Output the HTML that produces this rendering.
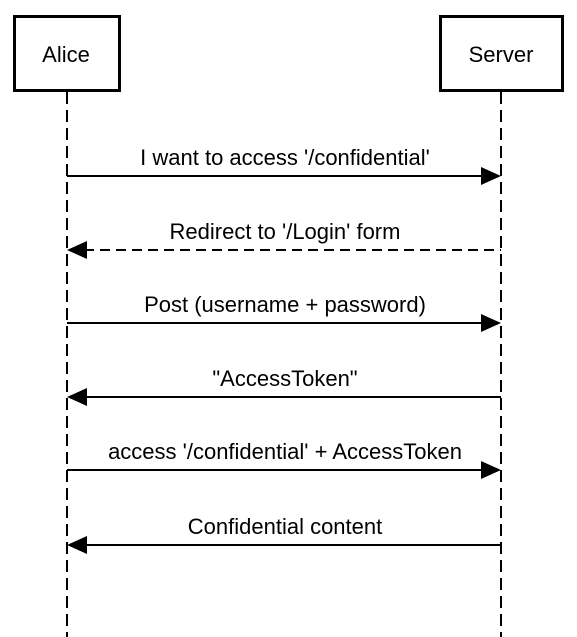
<!DOCTYPE html>
<html><head><meta charset="utf-8"><style>
html,body{margin:0;padding:0;background:#fff;}
svg{display:block;}
text{font-family:"Liberation Sans",Arial,sans-serif;font-size:22px;fill:#000;}
</style></head><body>
<svg width="577" height="637" viewBox="0 0 577 637" xmlns="http://www.w3.org/2000/svg">
<rect x="14.5" y="16.5" width="105" height="74" fill="#fff" stroke="#000" stroke-width="3"/>
<rect x="440.5" y="16.5" width="122" height="74" fill="#fff" stroke="#000" stroke-width="3"/>
<text x="66" y="62" text-anchor="middle">Alice</text>
<text x="501" y="62" text-anchor="middle">Server</text>
<line x1="67" y1="92" x2="67" y2="637" stroke="#000" stroke-width="2" stroke-dasharray="12,6"/>
<line x1="501" y1="92" x2="501" y2="637" stroke="#000" stroke-width="2" stroke-dasharray="12,6"/>
<g stroke="#000" stroke-width="2">
<line x1="67" y1="176" x2="484" y2="176"/>
<line x1="84" y1="250" x2="501" y2="250" stroke-dasharray="10,6"/>
<line x1="67" y1="323" x2="484" y2="323"/>
<line x1="84" y1="397" x2="501" y2="397"/>
<line x1="67" y1="470" x2="484" y2="470"/>
<line x1="84" y1="545" x2="501" y2="545"/>
</g>
<g fill="#000">
<polygon points="501,176 481,167 481,185"/>
<polygon points="67,250 87,241 87,259"/>
<polygon points="501,323 481,314 481,332"/>
<polygon points="67,397 87,388 87,406"/>
<polygon points="501,470 481,461 481,479"/>
<polygon points="67,545 87,536 87,554"/>
</g>
<text x="285" y="165" text-anchor="middle">I want to access '/confidential'</text>
<text x="285" y="239" text-anchor="middle">Redirect to '/Login' form</text>
<text x="285" y="312" text-anchor="middle">Post (username + password)</text>
<text x="285" y="386" text-anchor="middle">"AccessToken"</text>
<text x="285" y="459" text-anchor="middle">access '/confidential' + AccessToken</text>
<text x="285" y="534" text-anchor="middle">Confidential content</text>
</svg>
</body></html>
